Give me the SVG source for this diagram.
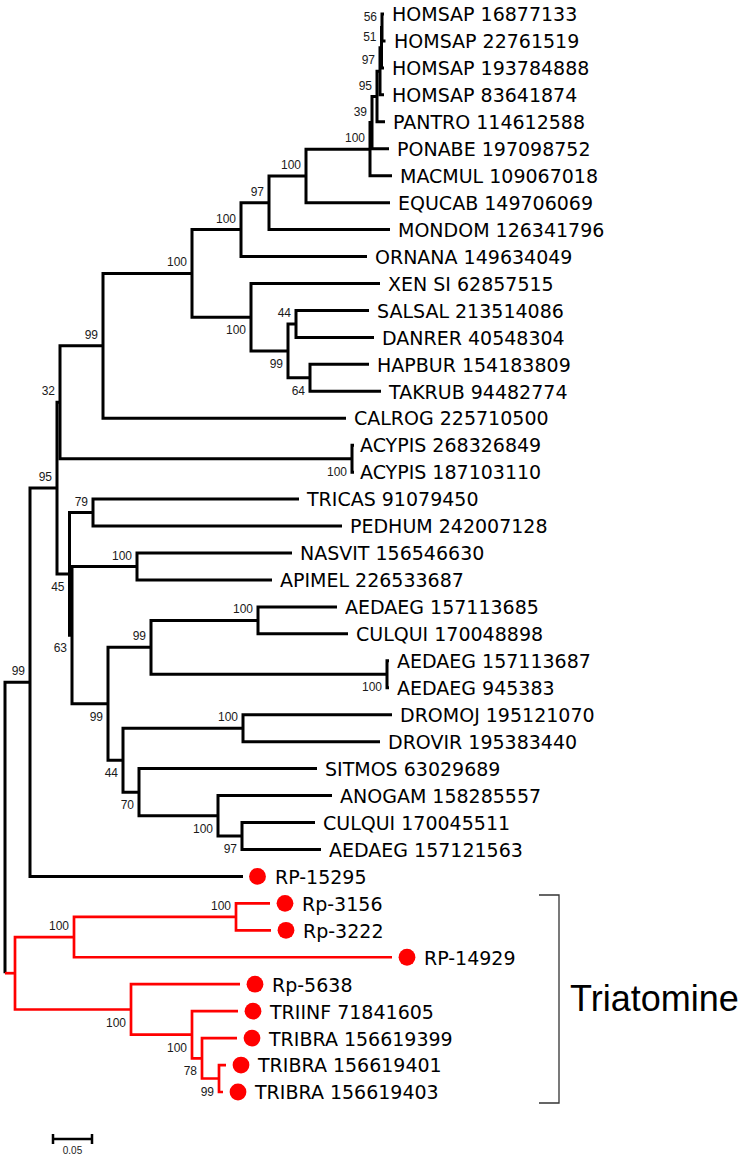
<svg xmlns="http://www.w3.org/2000/svg" width="755" height="1156" viewBox="0 0 755 1156">
<style>
.b{fill:none;stroke:#000;stroke-width:3;stroke-linejoin:miter}
.r{fill:none;stroke:#f00;stroke-width:2.7;stroke-linejoin:miter}
.bs{font-family:"Liberation Sans",Arial,sans-serif;font-size:12px;fill:#1a1a1a;text-anchor:end}
.lf{font-family:"DejaVu Sans",Verdana,sans-serif;font-size:19px;fill:#000}
.dot{fill:#f00}
</style>
<rect width="755" height="1156" fill="#fff"/>
<g id="connectors">
<path class="b" d="M384,14 H382 V40.95 H385.5"/>
<path class="b" d="M382,27.5 H381.5 V67.9 H384"/>
<path class="b" d="M381.5,47.7 H380 V94.85 H384"/>
<path class="b" d="M380,71.3 H377 V121.8 H385"/>
<path class="b" d="M377,96.5 H372 V148.75 H389"/>
<path class="b" d="M372,122.6 H370 V175.7 H392"/>
<path class="b" d="M370,149.2 H306 V202.65 H390"/>
<path class="b" d="M306,175.9 H269 V229.6 H390"/>
<path class="b" d="M269,202.7 H241 V256.55 H367"/>
<path class="b" d="M241,229.6 H192 V317.2 H251"/>
<path class="b" d="M380,283.5 H251 V350.9 H288"/>
<path class="b" d="M296,323.9 H288 V377.8 H310"/>
<path class="b" d="M369,310.45 H296 V337.4 H374"/>
<path class="b" d="M369,364.35 H310 V391.3 H381"/>
<path class="b" d="M192,273.4 H103 V418.25 H346"/>
<path class="b" d="M103,345.8 H60 V458.7 H352"/>
<path class="b" d="M354,445.2 H352 V472.15 H354"/>
<path class="b" d="M60,402.2 H57 V573.9 H69.5"/>
<path class="b" d="M93,512.6 H69.5 V635.2 H72"/>
<path class="b" d="M299,499.1 H93 V526.05 H342"/>
<path class="b" d="M137,566.5 H72 V703.8 H108"/>
<path class="b" d="M292,553 H137 V579.95 H272"/>
<path class="b" d="M151,647.3 H108 V760.2 H123"/>
<path class="b" d="M258,620.4 H151 V674.3 H387"/>
<path class="b" d="M337,606.9 H258 V633.85 H348"/>
<path class="b" d="M389,660.8 H387 V687.75 H389"/>
<path class="b" d="M243,728.2 H123 V792.2 H139"/>
<path class="b" d="M392,714.7 H243 V741.65 H380"/>
<path class="b" d="M317,768.6 H139 V815.8 H218"/>
<path class="b" d="M332,795.55 H218 V836 H242"/>
<path class="b" d="M315,822.5 H242 V849.45 H321"/>
<path class="b" d="M57,488 H30 V876.4 H243"/>
<path class="b" d="M30,682.2 H5 V973.2"/>
<path class="r" d="M5,973.2 H15"/>
<path class="r" d="M74,937.1 H15 V1009.5 H131"/>
<path class="r" d="M236,916.8 H74 V957.25 H392"/>
<path class="r" d="M270,903.35 H236 V930.3 H271"/>
<path class="r" d="M240,984.2 H131 V1034.7 H192"/>
<path class="r" d="M238,1011.15 H192 V1058.3 H202"/>
<path class="r" d="M237,1038.1 H202 V1078.5 H219"/>
<path class="r" d="M226,1065.05 H219 V1092 H223"/>
<path d="M539,895 H559 V1103 H539" fill="none" stroke="#333" stroke-width="1.3"/>
<path d="M53,1139 H92 M53,1134 V1144 M92,1134 V1144" fill="none" stroke="#000" stroke-width="2.5"/>
</g>
<g id="bootstrap">
<text class="bs" x="377" y="20.5">56</text>
<text class="bs" x="376.5" y="40.7">51</text>
<text class="bs" x="375" y="64.3">97</text>
<text class="bs" x="372" y="89.5">95</text>
<text class="bs" x="367" y="115.6">39</text>
<text class="bs" x="365" y="142.2">100</text>
<text class="bs" x="301" y="168.9">100</text>
<text class="bs" x="264" y="195.7">97</text>
<text class="bs" x="236" y="222.6">100</text>
<text class="bs" x="187" y="266.4">100</text>
<text class="bs" x="291" y="316.9">44</text>
<text class="bs" x="98" y="338.8">99</text>
<text class="bs" x="55" y="395.2">32</text>
<text class="bs" x="52" y="481">95</text>
<text class="bs" x="88" y="505.6">79</text>
<text class="bs" x="132" y="559.5">100</text>
<text class="bs" x="146" y="640.3">99</text>
<text class="bs" x="253" y="613.4">100</text>
<text class="bs" x="238" y="721.2">100</text>
<text class="bs" x="25" y="675.2">99</text>
<text class="bs" x="231" y="909.8">100</text>
<text class="bs" x="69" y="930.1">100</text>
<text class="bs" x="246" y="334.2">100</text>
<text class="bs" x="283" y="367.9">99</text>
<text class="bs" x="305" y="394.8">64</text>
<text class="bs" x="347" y="475.7">100</text>
<text class="bs" x="64.5" y="590.9">45</text>
<text class="bs" x="67" y="652.2">63</text>
<text class="bs" x="382" y="691.3">100</text>
<text class="bs" x="103" y="720.8">99</text>
<text class="bs" x="118" y="777.2">44</text>
<text class="bs" x="134" y="809.2">70</text>
<text class="bs" x="213" y="832.8">100</text>
<text class="bs" x="237" y="853">97</text>
<text class="bs" x="126" y="1026.5">100</text>
<text class="bs" x="187" y="1051.7">100</text>
<text class="bs" x="197" y="1075.3">78</text>
<text class="bs" x="214" y="1095.5">99</text>
</g>
<g id="leaf-HOMSAP-16877133"><text class="lf" x="392" y="21">HOMSAP 16877133</text></g>
<g id="leaf-HOMSAP-22761519"><text class="lf" x="394" y="48">HOMSAP 22761519</text></g>
<g id="leaf-HOMSAP-193784888"><text class="lf" x="392" y="75">HOMSAP 193784888</text></g>
<g id="leaf-HOMSAP-83641874"><text class="lf" x="392" y="102">HOMSAP 83641874</text></g>
<g id="leaf-PANTRO"><text class="lf" x="393" y="129">PANTRO 114612588</text></g>
<g id="leaf-PONABE"><text class="lf" x="397" y="156">PONABE 197098752</text></g>
<g id="leaf-MACMUL"><text class="lf" x="400" y="183">MACMUL 109067018</text></g>
<g id="leaf-EQUCAB"><text class="lf" x="398" y="210">EQUCAB 149706069</text></g>
<g id="leaf-MONDOM"><text class="lf" x="398" y="237">MONDOM 126341796</text></g>
<g id="leaf-ORNANA"><text class="lf" x="375" y="263.5">ORNANA 149634049</text></g>
<g id="leaf-XEN"><text class="lf" x="388" y="290.5">XEN SI 62857515</text></g>
<g id="leaf-SALSAL"><text class="lf" x="377" y="317.5">SALSAL 213514086</text></g>
<g id="leaf-DANRER"><text class="lf" x="382" y="344.5">DANRER 40548304</text></g>
<g id="leaf-HAPBUR"><text class="lf" x="377" y="371.5">HAPBUR 154183809</text></g>
<g id="leaf-TAKRUB"><text class="lf" x="389" y="398.5">TAKRUB 94482774</text></g>
<g id="leaf-CALROG"><text class="lf" x="354" y="425">CALROG 225710500</text></g>
<g id="leaf-ACYPIS-268326849"><text class="lf" x="360" y="452">ACYPIS 268326849</text></g>
<g id="leaf-ACYPIS-187103110"><text class="lf" x="360" y="479">ACYPIS 187103110</text></g>
<g id="leaf-TRICAS"><text class="lf" x="307" y="506">TRICAS 91079450</text></g>
<g id="leaf-PEDHUM"><text class="lf" x="350" y="533">PEDHUM 242007128</text></g>
<g id="leaf-NASVIT"><text class="lf" x="300" y="560">NASVIT 156546630</text></g>
<g id="leaf-APIMEL"><text class="lf" x="280" y="587">APIMEL 226533687</text></g>
<g id="leaf-AEDAEG-157113685"><text class="lf" x="345" y="614">AEDAEG 157113685</text></g>
<g id="leaf-CULQUI-170048898"><text class="lf" x="356" y="641">CULQUI 170048898</text></g>
<g id="leaf-AEDAEG-157113687"><text class="lf" x="397" y="668">AEDAEG 157113687</text></g>
<g id="leaf-AEDAEG-945383"><text class="lf" x="397" y="695">AEDAEG 945383</text></g>
<g id="leaf-DROMOJ"><text class="lf" x="400" y="722">DROMOJ 195121070</text></g>
<g id="leaf-DROVIR"><text class="lf" x="388" y="749">DROVIR 195383440</text></g>
<g id="leaf-SITMOS"><text class="lf" x="325" y="775.5">SITMOS 63029689</text></g>
<g id="leaf-ANOGAM"><text class="lf" x="340" y="802.5">ANOGAM 158285557</text></g>
<g id="leaf-CULQUI-170045511"><text class="lf" x="323" y="829.5">CULQUI 170045511</text></g>
<g id="leaf-AEDAEG-157121563"><text class="lf" x="329" y="856.5">AEDAEG 157121563</text></g>
<g id="leaf-RP-15295"><circle class="dot" cx="257.5" cy="876.4" r="8.4"/><text class="lf" x="275" y="883.5">RP-15295</text></g>
<g id="leaf-Rp-3156"><circle class="dot" cx="285" cy="903.35" r="8.4"/><text class="lf" x="302" y="910.5">Rp-3156</text></g>
<g id="leaf-Rp-3222"><circle class="dot" cx="286" cy="930.3" r="8.4"/><text class="lf" x="303" y="937.5">Rp-3222</text></g>
<g id="leaf-RP-14929"><circle class="dot" cx="407" cy="957.25" r="8.4"/><text class="lf" x="424" y="964.5">RP-14929</text></g>
<g id="leaf-Rp-5638"><circle class="dot" cx="255" cy="984.2" r="8.4"/><text class="lf" x="272" y="991.5">Rp-5638</text></g>
<g id="leaf-TRIINF"><circle class="dot" cx="253" cy="1011.15" r="8.4"/><text class="lf" x="270" y="1018.5">TRIINF 71841605</text></g>
<g id="leaf-TRIBRA-156619399"><circle class="dot" cx="252" cy="1038.1" r="8.4"/><text class="lf" x="269" y="1045.5">TRIBRA 156619399</text></g>
<g id="leaf-TRIBRA-156619401"><circle class="dot" cx="241" cy="1065.05" r="8.4"/><text class="lf" x="258" y="1072">TRIBRA 156619401</text></g>
<g id="leaf-TRIBRA-156619403"><circle class="dot" cx="238" cy="1092" r="8.4"/><text class="lf" x="255" y="1099">TRIBRA 156619403</text></g>
<g id="clade-label"><text x="570" y="1011" font-family="Liberation Sans, Arial, sans-serif" font-size="36" fill="#000">Triatomine</text></g>
<g id="scale"><text x="72.5" y="1154" font-family="Liberation Sans, Arial, sans-serif" font-size="10" fill="#222" text-anchor="middle">0.05</text></g>
</svg>
